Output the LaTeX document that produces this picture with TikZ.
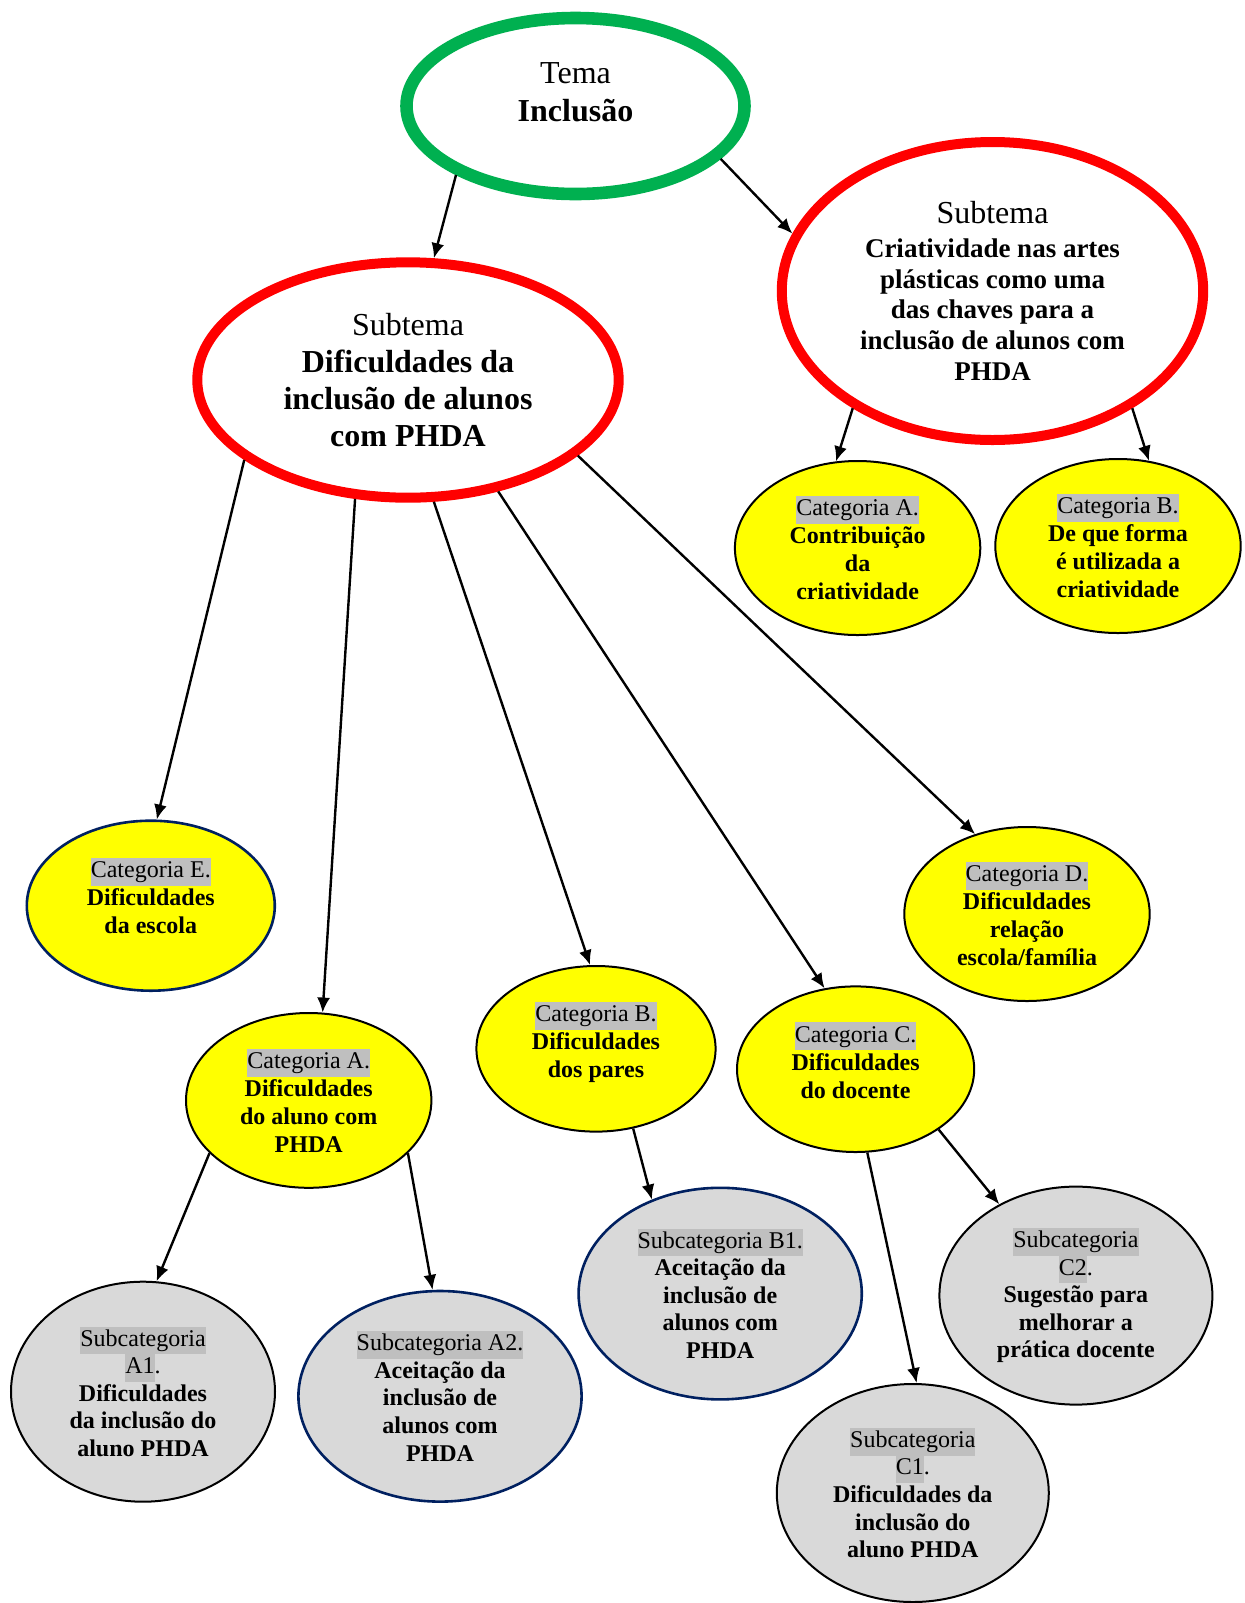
\documentclass[tikz,border=0pt]{standalone}
\usepackage{fontspec}
\setmainfont{Liberation Serif}
\usetikzlibrary{shapes.geometric,arrows.meta}

\definecolor{verdetema}{HTML}{00B050}
\definecolor{vermelho}{HTML}{FF0000}
\definecolor{amarelo}{HTML}{FFFF00}
\definecolor{cinzento}{HTML}{D9D9D9}
\definecolor{realce}{HTML}{BFBFBF}
\definecolor{azulescuro}{HTML}{002060}

\newcommand{\marca}[1]{{\mdseries\setlength{\fboxsep}{0pt}\colorbox{realce}{\strut #1}}}

\tikzset{
  elipse/.style={ellipse,align=center,inner sep=1pt},
  tema/.style={elipse,draw=verdetema,line width=6.3pt,
    minimum width=169pt,minimum height=88pt,font=\fontsize{16}{18.9}\selectfont},
  subtema/.style={elipse,draw=vermelho,line width=5pt,minimum width=210.7pt},
  categoria/.style={elipse,draw=black,line width=1pt,fill=amarelo,
    font=\bfseries\fontsize{12}{14}\selectfont},
  subcategoria/.style={elipse,draw=black,line width=1pt,fill=cinzento,
    font=\bfseries\fontsize{12}{13.8}\selectfont},
  azul/.style={draw=azulescuro,line width=1.3pt},
  seta/.style={-{Latex[length=7.5pt,width=6.5pt]},line width=1.2pt},
}

\begin{document}
\begin{tikzpicture}[x=0.5pt,y=-0.5pt] % 1 unit = 1 px of the page
  \fill[white] (0,0) rectangle (1244,1603);

  % tema e subtemas
  \node[tema] (tema) at (575.5,106) {Tema\\ \textbf{Inclusão}\\[-4.9pt]\mbox{}};
  \node[subtema,minimum height=117.7pt,font=\bfseries\fontsize{16}{18.4}\selectfont] (subL) at (408,380)
    {\textmd{Subtema}\\ Dificuldades da\\ inclusão de alunos\\ com PHDA};
  \node[subtema,minimum height=149pt,font=\bfseries\fontsize{13.5}{15.3}\selectfont] (subR) at (992.5,291)
    {{\mdseries\fontsize{16}{18}\selectfont Subtema}\\[1.6pt] Criatividade nas artes\\ plásticas como uma\\ das chaves para a\\ inclusão de alunos com\\ PHDA};

  % categorias
  \node[categoria,minimum width=122.7pt,minimum height=87pt] (catAR) at (857.6,548)
    {\marca{Categoria A.}\\ Contribuição\\ da\\ criatividade};
  \node[categoria,minimum width=122.7pt,minimum height=87pt] (catBR) at (1118,546)
    {\marca{Categoria B.}\\ De que forma\\ é utilizada a\\ criatividade};
  \node[categoria,azul,minimum width=124pt,minimum height=85pt] (catE) at (150.8,905.7)
    {\marca{Categoria E.}\\ Dificuldades\\ da escola\\[-4pt]\mbox{}};
  \node[categoria,minimum width=122.7pt,minimum height=87pt] (catD) at (1027,914)
    {\marca{Categoria D.}\\ Dificuldades\\ relação\\ escola/família};
  \node[categoria,minimum width=122.7pt,minimum height=87.4pt] (catAL) at (308.7,1100.4)
    {\marca{Categoria A.}\\ Dificuldades\\ do aluno com\\ PHDA};
  \node[categoria,minimum width=119.6pt,minimum height=82.8pt] (catBL) at (596,1048.8)
    {\marca{Categoria B.}\\ Dificuldades\\ dos pares\\[-5pt]\mbox{}};
  \node[categoria,minimum width=118.6pt,minimum height=82.8pt] (catC) at (855.6,1069.2)
    {\marca{Categoria C.}\\ Dificuldades\\ do docente\\[-5pt]\mbox{}};

  % subcategorias
  \node[subcategoria,minimum width=132pt,minimum height=110pt] (subA1) at (143,1391.7)
    {\marca{Subcategoria}\\ \marca{A1}\textmd{.}\\ Dificuldades\\ da inclusão do\\ aluno PHDA};
  \node[subcategoria,azul,minimum width=141.6pt,minimum height=105.3pt] (subA2) at (440,1396.3)
    {\marca{Subcategoria A2.}\\ Aceitação da\\ inclusão de\\ alunos com\\ PHDA};
  \node[subcategoria,azul,minimum width=141.6pt,minimum height=105.8pt] (subB1) at (720.2,1293.6)
    {\marca{Subcategoria B1.}\\ Aceitação da\\ inclusão de\\ alunos com\\ PHDA};
  \node[subcategoria,minimum width=136.5pt,minimum height=109pt] (subC2) at (1075.9,1295.6)
    {\marca{Subcategoria}\\ \marca{C2}\textmd{.}\\ Sugestão para\\ melhorar a\\ prática docente};
  \node[subcategoria,minimum width=136pt,minimum height=109pt] (subC1) at (912.8,1493)
    {\marca{Subcategoria}\\ \marca{C1}\textmd{.}\\ Dificuldades da\\ inclusão do\\ aluno PHDA};

  % setas
  \draw[seta] (tema.210) -- (subL.78);
  \draw[seta] (tema.340) -- (subR.164);
  \draw[seta] (subR.220) -- (catAR.104);
  \draw[seta] (subR.320) -- (catBR.70);
  \draw[seta] (subL.206) -- (catE.86);
  \draw[seta] (subL.246) -- (catAL.81);
  \draw[seta] (subL.282) -- (catBL.94);
  \draw[seta] (subL.309) -- (catC.111);
  \draw[seta] (subL.336) -- (catD.123);
  \draw[seta] (catAL.208) -- (subA1.83);
  \draw[seta] (catAL.332) -- (subA2.94);
  \draw[seta] (catBL.295) -- (subB1.126);
  \draw[seta] (catC.278) -- (subC1.88);
  \draw[seta] (catC.324) -- (subC2.130);
\end{tikzpicture}
\end{document}
